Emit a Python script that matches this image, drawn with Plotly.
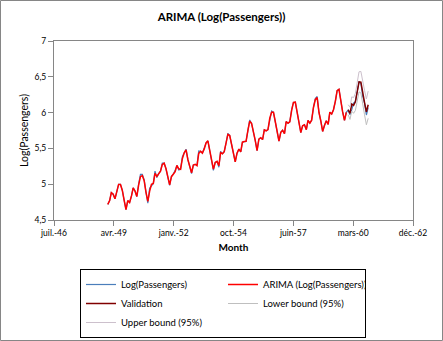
import pandas as pd
import plotly.graph_objects as go

# ---- data ----
months = pd.date_range("1949-01-01", periods=144, freq="MS")
val_months = months[132:]
fit_months = months[:132]

log_passengers = [
    4.718, 4.771, 4.883, 4.860, 4.796, 4.905, 4.997, 4.997, 4.913, 4.779, 4.644, 4.771,
    4.745, 4.836, 4.949, 4.905, 4.828, 5.004, 5.136, 5.136, 5.063, 4.890, 4.736, 4.942,
    4.977, 5.011, 5.182, 5.094, 5.147, 5.182, 5.293, 5.293, 5.215, 5.088, 4.984, 5.112,
    5.142, 5.193, 5.263, 5.198, 5.209, 5.384, 5.438, 5.489, 5.342, 5.252, 5.147, 5.268,
    5.278, 5.278, 5.464, 5.460, 5.434, 5.493, 5.576, 5.606, 5.468, 5.352, 5.193, 5.303,
    5.318, 5.236, 5.460, 5.425, 5.455, 5.576, 5.710, 5.680, 5.557, 5.434, 5.313, 5.434,
    5.489, 5.451, 5.587, 5.595, 5.598, 5.753, 5.897, 5.849, 5.743, 5.613, 5.468, 5.628,
    5.649, 5.624, 5.759, 5.746, 5.762, 5.924, 6.023, 6.004, 5.872, 5.724, 5.602, 5.724,
    5.753, 5.707, 5.875, 5.852, 5.872, 6.045, 6.142, 6.146, 6.001, 5.849, 5.720, 5.817,
    5.829, 5.762, 5.892, 5.852, 5.894, 6.075, 6.196, 6.225, 6.001, 5.883, 5.737, 5.820,
    5.886, 5.835, 6.006, 5.981, 6.040, 6.157, 6.306, 6.326, 6.138, 6.009, 5.892, 6.004,
    6.033, 5.969, 6.038, 6.133, 6.157, 6.282, 6.433, 6.407, 6.230, 6.133, 5.966, 6.068,
]

arima_fit = [
    4.718, 4.771, 4.883, 4.860, 4.796, 4.905, 4.997, 4.997, 4.913, 4.779, 4.644, 4.771,
    4.745, 4.836, 4.949, 4.905, 4.828, 4.990, 5.105, 5.120, 5.050, 4.890, 4.760, 4.900,
    5.000, 5.011, 5.150, 5.110, 5.140, 5.182, 5.275, 5.293, 5.215, 5.088, 4.990, 5.105,
    5.142, 5.175, 5.263, 5.215, 5.209, 5.360, 5.438, 5.480, 5.342, 5.252, 5.160, 5.268,
    5.278, 5.260, 5.430, 5.460, 5.434, 5.493, 5.576, 5.606, 5.468, 5.352, 5.210, 5.303,
    5.318, 5.260, 5.440, 5.425, 5.455, 5.576, 5.695, 5.680, 5.557, 5.434, 5.313, 5.434,
    5.489, 5.451, 5.587, 5.595, 5.598, 5.753, 5.880, 5.849, 5.743, 5.613, 5.468, 5.628,
    5.649, 5.624, 5.759, 5.746, 5.762, 5.924, 6.005, 6.004, 5.872, 5.724, 5.602, 5.724,
    5.753, 5.707, 5.875, 5.852, 5.872, 6.030, 6.142, 6.146, 6.001, 5.849, 5.720, 5.817,
    5.829, 5.762, 5.892, 5.852, 5.894, 6.075, 6.180, 6.210, 6.001, 5.883, 5.737, 5.820,
    5.886, 5.835, 6.006, 5.981, 6.040, 6.157, 6.306, 6.326, 6.138, 6.009, 5.892, 6.004,
]

validation = [6.040, 5.990, 6.120, 6.100, 6.150, 6.290, 6.430, 6.425, 6.260, 6.140, 6.010, 6.110]
lower_bound = [5.970, 5.905, 6.020, 5.990, 6.030, 6.160, 6.290, 6.275, 6.100, 5.970, 5.830, 5.920]
upper_bound = [6.110, 6.075, 6.220, 6.210, 6.270, 6.420, 6.570, 6.575, 6.420, 6.310, 6.190, 6.300]

# Excel date-axis ticks (serials 17000..23000 step 1000)
tick_serials = [17000, 18000, 19000, 20000, 21000, 22000, 23000]
tick_labels = ["juil.-46", "avr.-49", "janv.-52", "oct.-54", "juin-57", "mars-60", "déc.-62"]
y_ticks = [4.5, 5, 5.5, 6, 6.5, 7]
y_labels = ["4,5", "5", "5,5", "6", "6,5", "7"]

base = pd.Timestamp("1899-12-30")
tick_dates = [base + pd.Timedelta(days=s) for s in tick_serials]

FONT = "Lato, 'Open Sans', Arial, sans-serif"

fig = go.Figure()
fig.add_trace(go.Scatter(x=months, y=log_passengers, mode="lines", name="Log(Passengers)",
                         line=dict(color="#4A7EBB", width=1.2)))
fig.add_trace(go.Scatter(x=fit_months, y=arima_fit, mode="lines", name="ARIMA (Log(Passengers))",
                         line=dict(color="#FF0000", width=1.5)))
fig.add_trace(go.Scatter(x=val_months, y=validation, mode="lines", name="Validation",
                         line=dict(color="#800000", width=1.5)))
fig.add_trace(go.Scatter(x=val_months, y=lower_bound, mode="lines", name="Lower bound (95%)",
                         line=dict(color="#BFBFBF", width=1)))
fig.add_trace(go.Scatter(x=val_months, y=upper_bound, mode="lines", name="Upper bound (95%)",
                         line=dict(color="#CCC0CC", width=1)))

fig.update_layout(
    width=443, height=341,
    margin=dict(l=54, r=30, t=41, b=121, autoexpand=False),
    paper_bgcolor="white", plot_bgcolor="white",
    font=dict(family=FONT, size=10, color="#000000"),
    title=dict(text="<b>ARIMA (Log(Passengers))</b>", x=0.5, xanchor="center",
               y=1 - 17 / 341, yanchor="middle", font=dict(size=11.5, family=FONT)),
    showlegend=True,
    legend=dict(orientation="h", x=(80 - 54) / 359, y=(220 - 269) / 179,
                xanchor="left", yanchor="top",
                bordercolor="#000000", borderwidth=1, bgcolor="white",
                entrywidth=97, entrywidthmode="pixels", itemwidth=30,
                font=dict(size=9.5, family=FONT), traceorder="normal"),
    xaxis=dict(type="date", range=[tick_dates[0], tick_dates[-1]],
               tickmode="array", tickvals=tick_dates, ticktext=tick_labels,
               showgrid=False, zeroline=False, showline=True, linecolor="#868686",
               mirror=True, ticks="outside", ticklen=5, tickcolor="#868686",
               tickfont=dict(size=8.5, color="#000000"),
               title=dict(text="<b>Month</b>", font=dict(size=10), standoff=6)),
    yaxis=dict(range=[4.5, 7], tickmode="array", tickvals=y_ticks, ticktext=y_labels,
               showgrid=False, zeroline=False, showline=True, linecolor="#868686",
               mirror=True, ticks="outside", ticklen=5, tickcolor="#868686",
               tickfont=dict(size=8.5, color="#000000"),
               title=dict(text="Log(Passengers)", font=dict(size=10.5), standoff=3)),
)

# outer chart border
fig.add_shape(type="rect", xref="paper", yref="paper",
              x0=(0.5 - 54) / 359, x1=(442.5 - 54) / 359,
              y0=(220 - 340.5) / 179, y1=(220 - 0.5) / 179,
              line=dict(color="#868686", width=1), fillcolor="rgba(0,0,0,0)", layer="below")

fig.write_html("out.html")
